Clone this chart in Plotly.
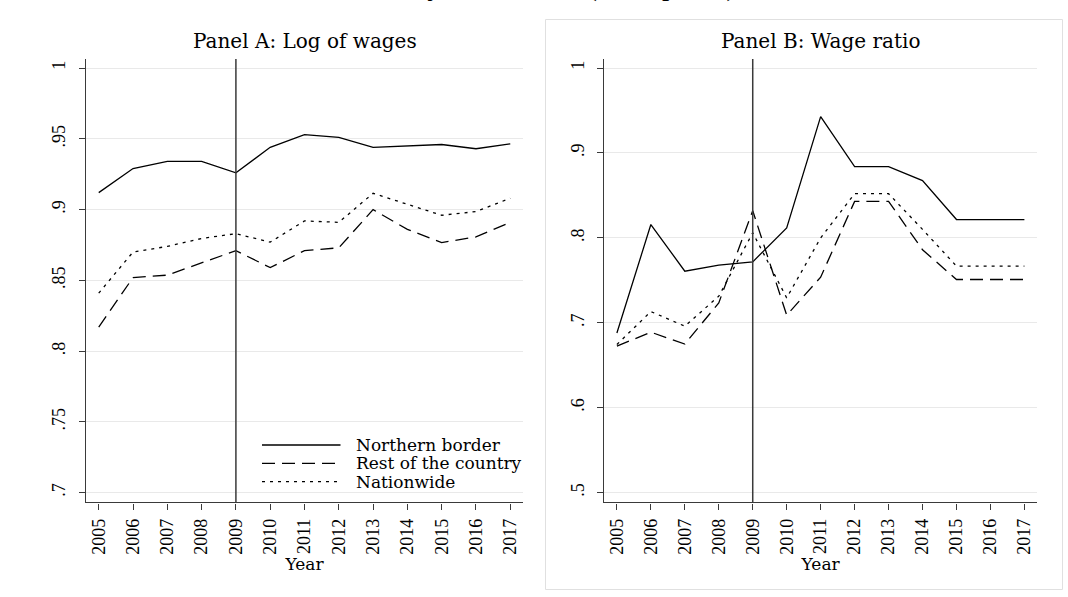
import plotly.graph_objects as go
from plotly.subplots import make_subplots

# ---------------- data ----------------
years = list(range(2005, 2018))
series_names = ["Northern border", "Rest of the country", "Nationwide"]

# Panel A: Log of wages
logwage_north = [0.912, 0.929, 0.934, 0.934, 0.926, 0.944, 0.953, 0.951, 0.944, 0.945, 0.946, 0.943, 0.9465]
logwage_rest = [0.817, 0.852, 0.8537, 0.8626, 0.871, 0.859, 0.871, 0.873, 0.900, 0.886, 0.8767, 0.8807, 0.891]
logwage_nation = [0.841, 0.870, 0.874, 0.8796, 0.883, 0.877, 0.892, 0.891, 0.9115, 0.904, 0.896, 0.8986, 0.908]

# Panel B: Wage ratio
ratio_north = [0.688, 0.8157, 0.7608, 0.768, 0.7718, 0.8118, 0.9427, 0.884, 0.884, 0.8675, 0.8216, 0.8216, 0.8216]
ratio_rest = [0.6725, 0.689, 0.675, 0.7235, 0.832, 0.709, 0.7537, 0.843, 0.843, 0.786, 0.751, 0.751, 0.751]
ratio_nation = [0.6745, 0.7133, 0.696, 0.7314, 0.806, 0.7294, 0.800, 0.852, 0.852, 0.810, 0.7667, 0.7667, 0.7667]

panel_titles = ["Panel A: Log of wages", "Panel B: Wage ratio"]
x_title = "Year"
treatment_year = 2009

ytick_a_vals = [0.7, 0.75, 0.8, 0.85, 0.9, 0.95, 1.0]
ytick_a_text = [".7", ".75", ".8", ".85", ".9", ".95", "1"]
ytick_b_vals = [0.5, 0.6, 0.7, 0.8, 0.9, 1.0]
ytick_b_text = [".5", ".6", ".7", ".8", ".9", "1"]

top_title = "Industry, 2005-2017 (2017 pesos)"

# ---------------- styles ----------------
W, H = 1068, 597
FONT = "Liberation Serif"
WIDE_FONT = "DejaVu Serif"
dashes = ["solid", "13px,7px", "3px,5px"]
LINE_W = 1.3
AXIS_COL = "#3a3a3a"
GRID_COL = "#e9e9e9"
FRAME_COL = "#e0e0e0"


def px(x):
    return x / W


def py(y):
    return 1 - y / H


fig = make_subplots(rows=1, cols=2)

panel_a = [logwage_north, logwage_rest, logwage_nation]
panel_b = [ratio_north, ratio_rest, ratio_nation]

for col, data in ((1, panel_a), (2, panel_b)):
    for name, vals, dash in zip(series_names, data, dashes):
        fig.add_trace(
            go.Scatter(
                x=years, y=vals, mode="lines", name=name,
                line=dict(color="black", width=LINE_W, dash=dash),
                showlegend=False, hoverinfo="skip",
            ),
            row=1, col=col,
        )

x_common = dict(
    range=[2004.62, 2017.38], automargin=False,
    tickmode="array", tickvals=years, ticktext=[str(y) for y in years],
    tickangle=-90, ticks="outside", ticklen=6, tickwidth=1.2, tickcolor=AXIS_COL,
    showline=True, linecolor=AXIS_COL, linewidth=1.4,
    showgrid=False, zeroline=False,
    tickfont=dict(family=FONT, size=18, color="black"),
    title=dict(text=x_title, font=dict(family=WIDE_FONT, size=17, color="black"), standoff=3),
    ticklabelstandoff=2,
)
y_common = dict(
    tickangle=-90, ticks="outside", ticklen=6, tickwidth=1.2, tickcolor=AXIS_COL,
    showline=True, linecolor=AXIS_COL, linewidth=1.4, automargin=False,
    showgrid=True, gridcolor=GRID_COL, gridwidth=1.2, zeroline=False,
    tickfont=dict(family=FONT, size=18, color="black"),
    ticklabelstandoff=6,
)

y_dom = [py(502.3), py(59)]
fig.update_xaxes(domain=[px(85.7), px(523.3)], row=1, col=1, **x_common)
fig.update_xaxes(domain=[px(604), px(1037.3)], row=1, col=2, **x_common)
fig.update_yaxes(domain=y_dom, range=[0.6932, 1.0064], tickmode="array",
                 tickvals=ytick_a_vals, ticktext=ytick_a_text, row=1, col=1, **y_common)
fig.update_yaxes(domain=y_dom, range=[0.4887, 1.0106], tickmode="array",
                 tickvals=ytick_b_vals, ticktext=ytick_b_text, row=1, col=2, **y_common)

# treatment year reference line
for col in (1, 2):
    fig.add_vline(x=treatment_year, line=dict(color=AXIS_COL, width=1.5), row=1, col=col)

# frames (decorative boxes around the whole graph and each panel)
frame_boxes = [(8.5, 1090, 6.5, 610), (25.5, 541.5, 19.5, 589.5), (545.5, 1062.5, 19.5, 589.5)]
shapes = []
for x0, x1, y0, y1 in frame_boxes:
    shapes.append(dict(type="rect", xref="paper", yref="paper",
                       x0=px(x0), x1=px(x1), y0=py(y1), y1=py(y0),
                       line=dict(color=FRAME_COL, width=1), fillcolor="rgba(0,0,0,0)",
                       layer="above"))

# manual legend (inside panel A)
legend_rows = [445, 463.3, 481.7]
annotations = []
for name, dash, ry in zip(series_names, dashes, legend_rows):
    shapes.append(dict(type="line", xref="paper", yref="paper",
                       x0=px(262), x1=px(340.5), y0=py(ry), y1=py(ry),
                       line=dict(color="black", width=LINE_W, dash=dash)))
    annotations.append(dict(text=name, xref="paper", yref="paper", x=px(354), y=py(ry),
                            xanchor="left", yanchor="middle", showarrow=False,
                            font=dict(family=WIDE_FONT, size=17, color="black")))

# panel titles
for title, (a, b) in zip(panel_titles, [(85.7, 523.3), (604, 1037.3)]):
    annotations.append(dict(text=title, xref="paper", yref="paper", x=px((a + b) / 2), y=py(41),
                            xanchor="center", yanchor="middle", showarrow=False,
                            font=dict(family=WIDE_FONT, size=20, color="black")))

# clipped overall title
annotations.append(dict(text=top_title, xref="paper", yref="paper", x=px(540), y=1,
                        xanchor="center", yanchor="bottom", yshift=-4, showarrow=False,
                        font=dict(family=FONT, size=29, color="black")))

fig.update_layout(
    width=W, height=H,
    margin=dict(l=0, r=0, t=0, b=0, autoexpand=False),
    paper_bgcolor="white", plot_bgcolor="rgba(0,0,0,0)",
    shapes=shapes, annotations=annotations,
    showlegend=False, hovermode=False,
)

fig.write_html(
    "out.html",
    config={"displayModeBar": False},
    post_script="document.body.style.margin='0';document.body.style.overflow='hidden';",
)
